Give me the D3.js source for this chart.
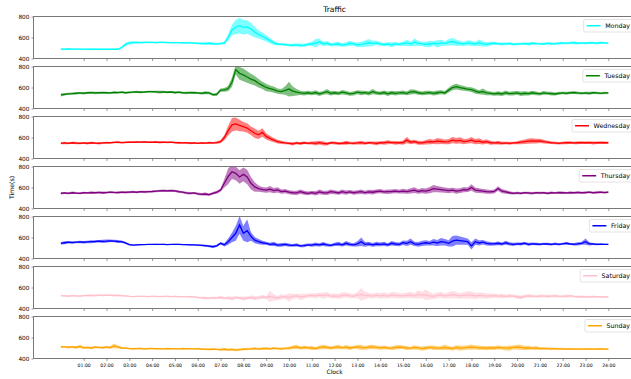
<!DOCTYPE html>
<html><head><meta charset="utf-8">
<script src="https://cdn.jsdelivr.net/npm/d3@7"></script>
<style>body{margin:0;background:#fff}svg{display:block}text{font-family:"DejaVu Sans",sans-serif;fill:#000}</style>
</head><body><svg id="c" width="631" height="379"></svg>
<script>
const days = ["Monday","Tuesday","Wednesday","Thursday","Friday","Saturday","Sunday"];
const colors = ["#00ffff","#008000","#ff0000","#800080","#0000ff","#ffc0cb","#ffa500"];
const tickHours = [1,2,3,4,5,6,7,8,9,10,11,12,13,14,15,16,17,18,19,20,21,22,23,24];
const tickLabels = ["01:00","02:00","03:00","04:00","05:00","06:00","07:00","08:00","09:00","10:00","11:00","12:00","13:00","14:00","15:00","16:00","17:00","18:00","19:00","20:00","21:00","22:00","23:00","24:00"];
const yTicks = [400,600,800];
const stepMinutes = 10;

const mondayMean = [
490,488,491,489,490,489, 489,488,488,489,488,488, 488,489,488,488,505,535,
548,552,553,552,553,554, 553,552,553,554,552,551, 552,551,550,549,548,547,
544,543,542,545,541,540, 542,548,600,672,700,712, 697,700,680,650,630,612,
592,570,548,538,535,532, 528,526,530,525,527,535, 540,545,560,540,545,532,
535,538,528,535,545,540, 530,535,542,550,545,548, 540,532,538,530,540,535,
542,548,538,555,545,540, 535,538,545,540,548,542, 555,560,550,545,540,548,
545,538,550,540,535,542, 545,540,538,540,542,535, 538,540,542,538,545,542,
540,538,545,540,542,545, 548,545,548,550,545,548, 545,550,548,546,550,548, 545];
const mondaySpread = [
8,6,7,6,6,6, 5,5,5,6,5,5, 5,5,5,6,12,15,
14,12,10,8,8,8, 7,7,8,7,7,7, 7,7,7,8,8,8,
8,10,12,12,14,10, 10,12,30,50,70,75, 70,65,60,50,40,35,
30,25,20,12,12,10, 12,15,12,18,14,15, 20,40,30,20,22,15,
18,22,15,20,25,18, 22,25,30,35,25,20, 18,15,20,22,18,15,
20,30,22,35,25,20, 25,30,20,35,30,20, 30,35,28,25,20,25,
25,20,30,25,20,18, 15,12,15,12,14,12, 12,10,12,14,12,10,
10,12,10,12,10,12, 12,10,12,14,12,10, 12,10,12,10,12,10, 8];

const tuesdayMean = [
529,535,540,542,545,548, 545,550,552,548,550,552, 550,548,553,552,555,550,
553,556,558,555,557,560, 560,558,556,558,555,557, 552,555,550,548,552,550,
548,545,550,548,532,535, 575,578,590,650,770,735, 720,700,680,665,640,620,
600,590,580,565,560,572, 585,565,555,548,545,550, 545,552,540,548,560,545,
550,545,555,548,540,545, 555,548,552,545,560,548, 545,552,540,550,545,548,
552,545,558,560,550,545, 548,552,545,550,555,548, 575,600,608,598,592,585,
580,565,555,560,548,545, 540,545,538,550,542,545, 548,540,545,542,550,545,
540,548,545,542,538,545, 548,545,550,552,548,545, 548,545,550,548,545,548, 548];
const tuesdaySpread = [
15,12,10,10,12,10, 12,10,10,12,10,10, 10,10,12,10,10,10,
10,8,10,10,8,10, 10,10,12,10,10,10, 12,10,10,12,10,12,
10,12,15,12,12,15, 15,18,25,45,45,60, 60,55,50,45,40,35,
35,30,30,25,25,40, 70,45,30,20,20,20, 18,22,20,18,25,20,
20,18,22,20,18,20, 20,22,18,20,25,18, 18,20,22,18,20,18,
20,18,25,22,20,18, 20,18,20,22,20,18, 22,25,28,25,22,20,
22,25,20,30,22,18, 18,20,18,22,18,20, 18,22,20,18,20,18,
15,18,15,18,15,15, 12,15,12,15,12,12, 12,15,12,12,10,12, 10];

const wednesdayMean = [
545,548,545,550,547,545, 548,545,550,547,545,548, 552,550,553,555,552,554,
556,555,557,556,558,555, 555,557,554,556,553,555, 552,550,548,550,546,548,
545,548,546,550,548,552, 560,600,665,720,730,715, 703,690,665,640,625,648,
610,592,575,560,554,548, 545,540,548,543,550,545, 548,545,552,545,540,550,
548,543,545,550,547,545, 548,552,545,550,548,545, 550,548,555,552,548,550,
552,575,555,560,550,548, 555,560,558,565,562,558, 560,575,568,572,560,565,
575,560,565,555,560,550, 548,552,545,548,545,548, 550,555,560,565,568,565,
568,560,555,550,548,545, 548,550,552,548,550,552, 550,552,548,550,552,550, 550];
const wednesdaySpread = [
10,12,10,10,12,10, 10,12,10,10,12,10, 8,8,8,10,8,8,
8,8,8,8,8,8, 8,8,10,8,8,8, 8,10,8,8,10,8,
8,10,8,10,10,12, 15,25,45,65,60,55, 45,45,40,45,40,40,
30,25,20,18,15,12, 12,15,12,15,12,12, 15,20,18,20,15,12,
15,12,15,18,12,15, 15,18,15,12,15,18, 15,18,20,15,18,15,
20,30,20,18,20,18, 22,25,20,30,25,22, 25,30,28,30,25,22,
30,25,28,22,20,18, 15,18,15,12,15,12, 15,20,22,25,25,22,
20,18,15,12,12,12, 12,15,12,12,15,12, 12,12,15,12,12,12, 10];

const thursdayMean = [
545,548,545,550,547,545, 550,548,552,550,553,550, 552,555,553,552,555,554,
556,558,555,560,558,560, 562,565,568,570,568,570, 568,560,555,548,545,548,
540,535,538,532,545,555, 575,640,705,750,735,700, 725,700,640,605,590,580,
575,585,570,578,560,565, 555,550,548,560,550,545, 552,545,558,550,548,560,
555,548,560,552,558,550, 555,560,552,558,555,562, 565,558,560,562,565,560,
565,560,568,575,562,570, 565,575,590,585,580,575, 570,575,565,570,580,578,
600,575,570,565,560,558, 562,590,565,558,550,545, 548,545,550,548,545,550,
548,550,545,550,548,552, 550,548,552,550,553,550, 552,555,550,553,555,552, 555];
const thursdaySpread = [
12,10,10,12,10,10, 10,10,12,10,10,12, 10,10,10,12,10,10,
10,10,10,10,12,10, 10,10,10,10,10,10, 10,12,10,12,12,10,
12,12,15,12,12,15, 15,40,75,70,65,65, 65,70,60,45,30,25,
25,30,25,25,20,20, 20,18,20,22,18,18, 18,20,22,18,20,22,
20,18,22,20,18,20, 20,22,18,20,22,20, 20,18,22,20,20,18,
22,20,25,28,22,25, 25,30,35,30,28,25, 25,22,25,22,25,22,
30,25,22,20,20,18, 18,22,20,18,15,12, 12,12,10,12,12,10,
12,10,12,12,10,12, 12,10,12,10,12,10, 12,10,10,12,10,10, 10];

const fridayMean = [
545,550,555,552,555,558, 555,558,560,562,565,563, 565,568,566,562,560,548,
532,528,530,532,533,534, 534,535,534,535,533,534, 535,534,533,532,530,530,
528,525,522,518,512,520, 545,530,560,600,640,720, 640,665,610,575,560,550,
545,535,540,528,530,535, 528,525,530,520,522,530, 528,535,530,538,530,525,
535,540,530,545,535,530, 540,560,535,540,530,538, 535,540,530,545,538,535,
550,545,560,540,535,545, 550,545,555,548,560,555, 545,565,575,570,565,560,
520,560,548,555,545,540, 540,545,538,550,540,535, 540,538,545,535,540,538,
535,540,538,535,540,535, 540,545,538,535,540,545, 560,540,538,535,536,535, 535];
const fridaySpread = [
12,15,12,12,10,12, 12,12,15,12,12,15, 15,12,12,15,12,10,
8,6,6,5,5,5, 5,5,5,5,5,5, 5,6,5,5,6,5,
6,8,10,10,12,10, 12,15,30,45,70,85, 70,110,40,30,25,18,
15,15,20,15,18,15, 15,12,15,12,15,12, 15,18,15,20,15,12,
15,20,15,22,18,15, 25,40,22,20,18,22, 18,20,15,22,20,18,
22,25,30,20,22,25, 25,22,30,28,35,30, 30,50,45,40,35,30,
35,30,25,22,20,18, 15,18,15,20,15,15, 12,15,12,15,12,12,
12,10,12,10,12,10, 10,12,10,12,15,15, 30,15,10,8,8,6, 6];

const saturdayMean = [
522,520,518,522,520,518, 522,524,525,523,526,525, 528,526,524,525,522,520,
515,514,515,516,515,514, 515,516,514,515,516,514, 515,514,513,514,512,510,
505,502,500,498,502,500, 505,498,502,495,505,500, 495,500,505,498,502,510,
505,515,505,500,510,512, 505,515,520,510,515,522, 525,520,528,522,530,518,
520,515,525,530,520,518, 528,535,522,525,518,528, 520,525,518,530,525,522,
520,525,530,520,535,528, 530,520,515,525,530,520, 525,532,528,520,525,530,
528,520,525,522,518,520, 522,518,520,515,520,518, 512,505,515,520,518,515,
518,520,515,518,520,516, 515,518,520,515,512,514, 512,510,514,512,510,512, 508];
const saturdaySpread = [
8,8,10,8,8,8, 8,8,8,8,8,8, 8,8,8,8,8,8,
6,6,6,6,6,6, 6,6,6,6,6,6, 6,6,6,8,8,8,
8,10,15,10,12,10, 18,12,15,20,12,15, 20,15,18,20,15,20,
15,55,30,20,25,20, 40,25,20,30,25,20, 20,25,22,30,25,20,
25,22,30,25,22,20, 30,60,35,25,22,25, 25,30,22,28,30,25,
22,28,30,25,40,30, 50,35,25,30,28,25, 30,35,30,28,30,35,
35,30,28,30,25,22, 20,18,22,15,18,15, 18,20,15,18,15,12,
15,12,15,12,15,12, 12,15,12,10,12,10, 10,8,10,8,8,8, 8];

const sundayMean = [
512,510,508,510,505,515, 502,505,500,508,505,503, 508,505,520,510,500,498,
495,493,494,495,492,494, 495,493,494,492,495,493, 494,492,495,493,494,492,
494,490,488,486,490,487, 485,488,484,486,480,485, 488,490,492,495,490,494,
496,492,498,495,492,496, 498,505,510,500,505,502, 500,495,505,510,505,500,
505,510,502,508,500,505, 510,505,502,508,510,505, 502,505,500,498,505,508,
505,500,498,505,502,495, 500,505,502,498,500,505, 500,495,505,498,502,505,
508,505,502,500,498,502, 500,505,502,498,500,505, 508,505,500,502,498,500,
495,496,494,492,493,491, 492,490,491,490,489,490, 490,491,489,490,492,490, 490];
const sundaySpread = [
8,10,12,10,12,15, 12,10,12,10,10,12, 10,12,22,15,10,8,
8,8,8,8,8,8, 6,6,6,6,6,6, 6,6,6,6,6,6,
8,10,8,10,10,8, 10,12,10,12,12,10, 10,12,10,12,10,12,
12,10,12,10,12,10, 15,18,20,15,18,15, 18,15,20,22,18,15,
18,22,15,20,18,15, 20,25,18,20,22,18, 18,20,15,18,22,20,
18,20,15,22,18,20, 20,18,22,18,20,25, 20,18,22,25,20,22,
25,20,22,18,20,18, 18,20,18,22,25,20, 22,25,18,20,15,18,
12,10,10,12,10,10, 10,10,8,10,8,10, 10,8,8,10,8,8, 8];

const means = [mondayMean,tuesdayMean,wednesdayMean,thursdayMean,fridayMean,saturdayMean,sundayMean];
const spreads = [mondaySpread,tuesdaySpread,wednesdaySpread,thursdaySpread,fridaySpread,saturdaySpread,sundaySpread];

const svg = d3.select("#c");
const panelTop0 = 16.5, panelStep = 50, panelH = 42;
const xLeft = 33.5, xRight = 635.7;
const x = d3.scaleLinear().domain([-1.2, 25.2]).range([xLeft, xRight]);
const spine = "#555";

days.forEach((day, i) => {
  const top = panelTop0 + panelStep * i;
  const y = d3.scaleLinear().domain([400, 800]).range([top + panelH, top]);
  const g = svg.append("g");
  const cid = "clip" + i;
  svg.append("clipPath").attr("id", cid).append("rect")
    .attr("x", xLeft).attr("y", top).attr("width", xRight - xLeft).attr("height", panelH);
  const pts = means[i].map((m, k) => ({t: k * stepMinutes / 60, m, s: spreads[i][k]}));
  const plot = g.append("g").attr("clip-path", `url(#${cid})`);
  plot.append("path").datum(pts)
    .attr("d", d3.area().x(d => x(d.t)).y0(d => y(d.m - d.s)).y1(d => y(d.m + d.s)))
    .attr("fill", colors[i]).attr("fill-opacity", 0.5).attr("stroke", "none");
  plot.append("path").datum(pts)
    .attr("d", d3.line().x(d => x(d.t)).y(d => y(d.m)))
    .attr("fill", "none").attr("stroke", colors[i]).attr("stroke-width", 1.3);

  // spines
  g.append("line").attr("x1", xLeft).attr("x2", xRight).attr("y1", top).attr("y2", top).attr("stroke", spine).attr("stroke-width", 0.8);
  g.append("line").attr("x1", xLeft).attr("x2", xRight).attr("y1", top + panelH).attr("y2", top + panelH).attr("stroke", spine).attr("stroke-width", 0.8);
  g.append("line").attr("x1", xLeft).attr("x2", xLeft).attr("y1", top).attr("y2", top + panelH).attr("stroke", spine).attr("stroke-width", 0.8);

  // x axis ticks
  const xa = d3.axisBottom(x).tickValues(tickHours).tickSize(2.5).tickSizeOuter(0)
    .tickFormat((d, k) => i === days.length - 1 ? tickLabels[k] : "");
  const xg = g.append("g").attr("transform", `translate(0,${top + panelH})`).call(xa);
  xg.select(".domain").remove();
  xg.selectAll(".tick line").attr("stroke", spine).attr("stroke-width", 0.6);
  xg.selectAll(".tick text").attr("font-size", 4.6).attr("font-family", "DejaVu Sans").attr("fill", "#000").attr("dy", "0.55em");

  // y axis
  const ya = d3.axisLeft(y).tickValues(yTicks).tickSize(2).tickSizeOuter(0).tickPadding(2);
  const yg = g.append("g").attr("transform", `translate(${xLeft},0)`).call(ya);
  yg.select(".domain").remove();
  yg.selectAll(".tick line").attr("stroke", spine).attr("stroke-width", 0.6);
  yg.selectAll(".tick text").attr("font-size", 5.8).attr("font-family", "DejaVu Sans").attr("fill", "#000");

  // legend
  const lg = g.append("g");
  const txt = lg.append("text").attr("font-size", 6.3).text(day);
  const tw = txt.node().getComputedTextLength();
  const boxR = 633, boxTop = top + 3, boxH = 12.5;
  const textX = boxR - 3 - tw;
  const boxL = textX - 4.5 - 14 - 3;
  lg.insert("rect", "text").attr("x", boxL).attr("y", boxTop).attr("width", boxR - boxL).attr("height", boxH)
    .attr("rx", 1.5).attr("fill", "#fff").attr("fill-opacity", 0.8).attr("stroke", "#d0d0d0").attr("stroke-width", 0.6);
  lg.append("line").attr("x1", boxL + 3).attr("x2", boxL + 17).attr("y1", boxTop + boxH / 2).attr("y2", boxTop + boxH / 2)
    .attr("stroke", colors[i]).attr("stroke-width", 1.5);
  txt.attr("x", textX).attr("y", boxTop + boxH / 2 + 2.2);
});

svg.append("text").attr("x", (xLeft + xRight) / 2).attr("y", 12).attr("text-anchor", "middle").attr("font-size", 7.6).text("Traffic");
svg.append("text").attr("x", (xLeft + xRight) / 2).attr("y", 374).attr("text-anchor", "middle").attr("font-size", 6).text("Clock");
svg.append("text").attr("transform", `translate(14,${(panelTop0 + panelTop0 + panelStep * 6 + panelH) / 2}) rotate(-90)`)
  .attr("text-anchor", "middle").attr("font-size", 6.2).text("Time(s)");
</script>
</body></html>
